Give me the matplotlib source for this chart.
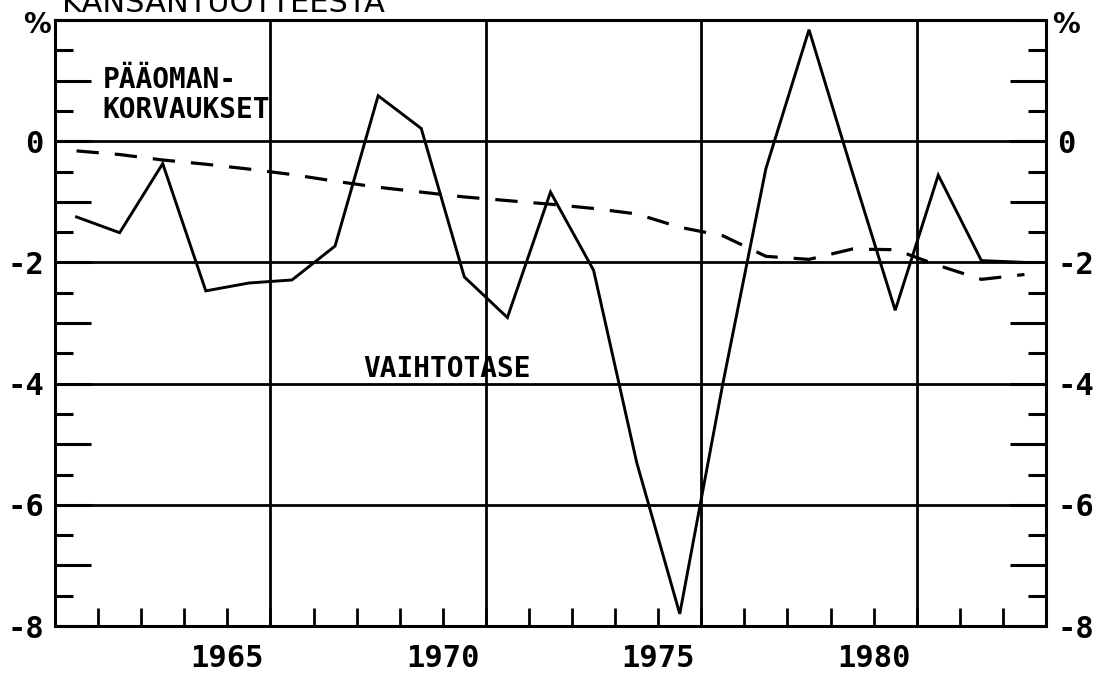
import numpy as np
import matplotlib
matplotlib.use("Agg")
import matplotlib.pyplot as plt

# vuodet ja sarjat (% kansantuotteesta)
years = np.arange(1961, 1984)
vaihtotase = [-1.25, -1.51, -0.37, -2.47, -2.34, -2.29, -1.73, 0.75, 0.21, -2.24,
              -2.91, -0.84, -2.13, -5.3, -7.8, -4.0, -0.45, 1.84, -0.5, -2.79,
              -0.56, -1.97, -2.0]
paaomankorvaukset = [-0.16, -0.22, -0.31, -0.38, -0.46, -0.55, -0.66, -0.76, -0.84, -0.92,
                     -0.98, -1.04, -1.11, -1.20, -1.42, -1.56, -1.90, -1.95, -1.78, -1.79,
                     -2.05, -2.28, -2.20]
xlabel_years = [1965, 1970, 1975, 1980]
grid_years = [1966, 1971, 1976, 1981]
ytick_vals = [-8, -6, -4, -2, 0]
ytick_text = ["-8", "-6", "-4", "-2", "0"]

MONO = "DejaVu Sans Mono"

fig = plt.figure(figsize=(10.99, 6.73), dpi=100)
ax = fig.add_axes([55 / 1099, 1 - 626 / 673, (1046 - 55) / 1099, (626 - 20) / 673])

# arvot piirretään vuoden keskelle
xpos = years + 0.5
ax.plot(xpos, vaihtotase, color="black", lw=2.1, solid_joinstyle="miter")
ax.plot(xpos, paaomankorvaukset, color="black", lw=2.3, dashes=(7, 5))

for g in [0, -2, -4, -6]:
    ax.axhline(g, color="black", lw=2.0, zorder=1)
for g in grid_years:
    ax.axvline(g, color="black", lw=2.0, zorder=1)

ax.set_xlim(1961, 1984)
ax.set_ylim(-8, 2)

for s in ax.spines.values():
    s.set_linewidth(2.2)

ax.set_xticks(range(1962, 1984))
ax.set_xticklabels([str(y) if y in xlabel_years else "" for y in range(1962, 1984)],
                   fontfamily=MONO, fontweight="bold", fontsize=22)
ax.tick_params(axis="x", direction="in", length=13, width=2.0, pad=13)

ax.set_yticks(range(-8, 3))
ax.set_yticklabels([ytick_text[ytick_vals.index(v)] if v in ytick_vals else ""
                    for v in range(-8, 3)],
                   fontfamily=MONO, fontweight="bold", fontsize=22)
ax.set_yticks(np.arange(-7.5, 2, 1.0), minor=True)
ax.tick_params(axis="y", which="major", direction="in", length=26, width=2.2, pad=8,
               left=True, right=True, labelleft=True, labelright=True)
ax.tick_params(axis="y", which="minor", direction="in", length=13, width=2.2,
               left=True, right=True)
ax.tick_params(axis="x", which="minor", length=0)

# prosenttimerkit akselien yläpäässä
fig.text(37 / 1099, 1 - 25 / 673, "%", fontfamily="DejaVu Sans", fontweight="bold",
         fontsize=20, ha="center", va="center")
fig.text(1066 / 1099, 1 - 25 / 673, "%", fontfamily="DejaVu Sans", fontweight="bold",
         fontsize=20, ha="center", va="center")

ax.text(1962.1, 0.87, "PÄÄOMAN-", fontfamily=MONO, fontweight="bold", fontsize=20,
        va="baseline", ha="left")
ax.text(1962.1, 0.38, "KORVAUKSET", fontfamily=MONO, fontweight="bold", fontsize=20,
        va="baseline", ha="left")
ax.text(1968.15, -3.89, "VAIHTOTASE", fontfamily=MONO, fontweight="bold", fontsize=20,
        va="baseline", ha="left")

fig.text(62 / 1099, 1 - 12 / 673, "KANSANTUOTTEESTA", fontsize=22, ha="left",
         va="baseline", fontfamily="DejaVu Sans")

fig.savefig("out.png", dpi=100)
